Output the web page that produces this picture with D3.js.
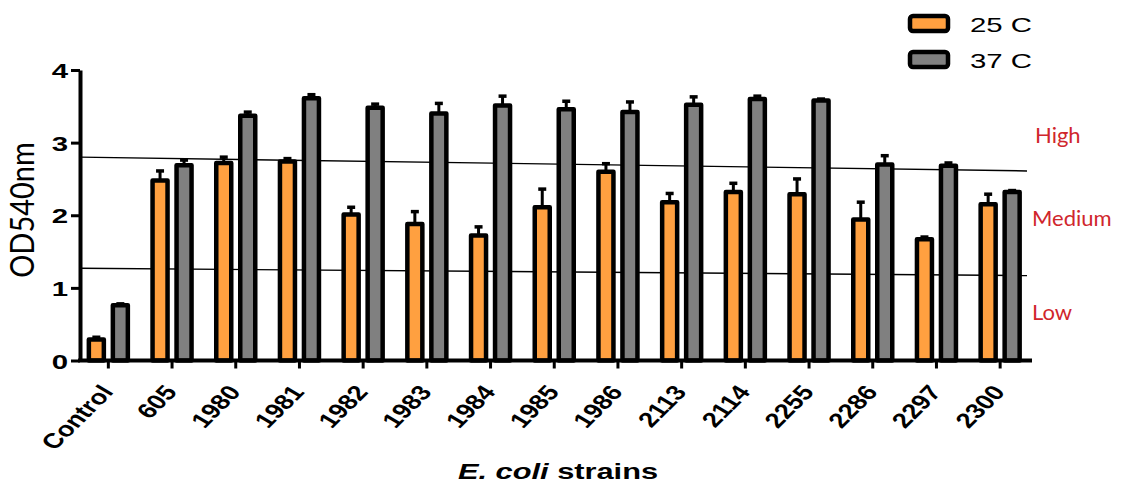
<!DOCTYPE html>
<html>
<head>
<meta charset="utf-8">
<script src="https://cdn.jsdelivr.net/npm/d3@7"></script>
<style>
  body { margin: 0; background: #fff; }
  svg { display: block; }
</style>
</head>
<body>
<svg id="chart" width="1126" height="486"></svg>
<script>
// OD540 values per strain
const strains = ["Control", "605", "1980", "1981", "1982", "1983", "1984", "1985",
                 "1986", "2113", "2114", "2255", "2286", "2297", "2300"];
const series = ["25 C", "37 C"];
const od25 = [0.29, 2.48, 2.72, 2.74, 2.01, 1.88, 1.72, 2.11, 2.60, 2.18, 2.32, 2.29, 1.94, 1.67, 2.15];
const err25 = [0.03, 0.13, 0.08, 0.04, 0.10, 0.17, 0.12, 0.25, 0.11, 0.12, 0.12, 0.21, 0.24, 0.03, 0.14];
const od37 = [0.76, 2.69, 3.37, 3.61, 3.48, 3.40, 3.51, 3.46, 3.42, 3.52, 3.60, 3.58, 2.70, 2.68, 2.32];
const err37 = [0.02, 0.07, 0.05, 0.05, 0.05, 0.14, 0.13, 0.11, 0.14, 0.11, 0.04, 0.02, 0.12, 0.04, 0.02];
const yTicks = [0, 1, 2, 3, 4];

// threshold lines drawn by hand on the figure (value at left end, value at right end)
const cutLines = [[2.80, 2.61], [1.27, 1.17]];
const levels = ["High", "Medium", "Low"];
const levelValues = [3.0, 1.85, 0.56];

const colors = { "25 C": "#ffa040", "37 C": "#808080" };
const stretch = 1.4;  // the original figure was pulled wider, text included

const svg = d3.select("#chart");

const x = d3.scaleBand()
    .domain(strains)
    .range([76.5, 1032]);

const xInner = d3.scalePoint()
    .domain(series)
    .range([-12, 12]);

const y = d3.scaleLinear()
    .domain([0, 4])
    .range([360.5, 70]);

const rows = [];
strains.forEach((s, i) => {
    rows.push({ strain: s, key: "25 C", value: od25[i], err: err25[i] });
    rows.push({ strain: s, key: "37 C", value: od37[i], err: err37[i] });
});

const cx = d => x(d.strain) + x.bandwidth() / 2 + xInner(d.key);

// threshold lines
svg.append("g").selectAll("line")
    .data(cutLines)
    .enter().append("line")
    .attr("x1", 80)
    .attr("x2", 1027)
    .attr("y1", d => y(d[0]))
    .attr("y2", d => y(d[1]))
    .attr("stroke", "#000")
    .attr("stroke-width", 1.4);

// error bars (upper only)
const errs = svg.append("g").selectAll("g")
    .data(rows)
    .enter().append("g");

errs.append("line")
    .attr("x1", cx).attr("x2", cx)
    .attr("y1", d => y(d.value))
    .attr("y2", d => y(d.value + d.err))
    .attr("stroke", "#000")
    .attr("stroke-width", 3);

errs.append("line")
    .attr("x1", d => cx(d) - 4).attr("x2", d => cx(d) + 4)
    .attr("y1", d => y(d.value + d.err))
    .attr("y2", d => y(d.value + d.err))
    .attr("stroke", "#000")
    .attr("stroke-width", 3.5);

// bars
svg.append("g").selectAll("rect")
    .data(rows)
    .enter().append("rect")
    .attr("x", d => cx(d) - 7.5)
    .attr("y", d => y(d.value))
    .attr("width", 15)
    .attr("height", d => y(0) - y(d.value))
    .attr("fill", d => colors[d.key])
    .attr("stroke", "#000")
    .attr("stroke-width", 4.5)
    .attr("stroke-linejoin", "round");

// y axis
const yAxis = svg.append("g")
    .attr("transform", "translate(80,0)")
    .call(d3.axisLeft(y).tickValues(yTicks).tickFormat(d3.format("d")).tickSize(9).tickSizeOuter(0));

yAxis.select(".domain").attr("stroke-width", 4);
yAxis.selectAll(".tick line").attr("stroke-width", 3);
yAxis.selectAll(".tick text")
    .attr("x", 0)
    .attr("transform", `translate(-12,0) scale(${stretch},1)`)
    .attr("dy", "0.36em")
    .style("font-family", "'Liberation Sans', Arial, sans-serif")
    .style("font-size", "21px")
    .style("font-weight", "bold")
    .attr("fill", "#000");

// x axis
const xAxis = svg.append("g")
    .attr("transform", `translate(0,${y(0)})`)
    .call(d3.axisBottom(x).tickSize(8).tickSizeOuter(0));

xAxis.select(".domain").remove();
xAxis.selectAll(".tick text")
    .attr("x", 0)
    .attr("y", 0)
    .attr("dy", 0)
    .attr("text-anchor", "end")
    .attr("transform", "translate(6,32) scale(1.3,1) rotate(-52)")
    .style("font-family", "'Liberation Sans', Arial, sans-serif")
    .style("font-size", "21px")
    .style("font-weight", "bold")
    .attr("fill", "#000");
xAxis.selectAll(".tick line").attr("stroke-width", 3);

svg.append("line")
    .attr("x1", 78).attr("x2", 1032)
    .attr("y1", y(0)).attr("y2", y(0))
    .attr("stroke", "#000")
    .attr("stroke-width", 4);

// axis titles
svg.append("text")
    .attr("transform", "translate(34,210) scale(1.12,1) rotate(-90)")
    .attr("text-anchor", "middle")
    .style("font-family", "Lato, 'Open Sans', sans-serif")
    .style("font-size", "29px")
    .text("OD540nm");

const xTitle = svg.append("text")
    .attr("transform", `translate(558,479) scale(${stretch},1)`)
    .attr("text-anchor", "middle")
    .style("font-family", "'Liberation Sans', Arial, sans-serif")
    .style("font-size", "22px")
    .style("font-weight", "bold");
xTitle.append("tspan").style("font-style", "italic").text("E. coli");
xTitle.append("tspan").text(" strains");

// legend
const legend = svg.append("g").selectAll("g")
    .data(series)
    .enter().append("g")
    .attr("transform", (d, i) => `translate(910,${16 + i * 36})`);

legend.append("rect")
    .attr("width", 38)
    .attr("height", 15)
    .attr("rx", 3)
    .attr("fill", d => colors[d])
    .attr("stroke", "#000")
    .attr("stroke-width", 4.5);

legend.append("text")
    .attr("transform", `translate(60,16) scale(${stretch},1)`)
    .style("font-family", "'Liberation Sans', Arial, sans-serif")
    .style("font-size", "21px")
    .text(d => d);

// level labels
svg.append("g").selectAll("text")
    .data(levels)
    .enter().append("text")
    .attr("x", (d, i) => i === 0 ? 1035 : 1032)
    .attr("y", (d, i) => y(levelValues[i]))
    .attr("fill", "#d0262c")
    .style("font-family", "Lato, 'Open Sans', sans-serif")
    .style("font-size", "22px")
    .text(d => d);
</script>
</body>
</html>
